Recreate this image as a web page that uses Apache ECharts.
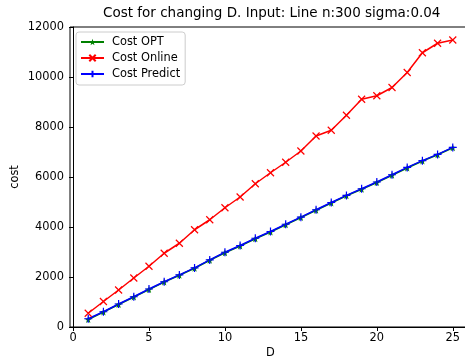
<!DOCTYPE html>
<html>
<head>
<meta charset="utf-8">
<script src="https://cdn.jsdelivr.net/npm/echarts@6/dist/echarts.min.js"></script>
<style>
  html, body { margin: 0; padding: 0; background: #fff; }
  #chart { width: 465px; height: 360px; }
</style>
</head>
<body>
<div id="chart"></div>
<script>
const dValues = [1, 2, 3, 4, 5, 6, 7, 8, 9, 10, 11, 12, 13, 14, 15, 16, 17, 18, 19, 20, 21, 22, 23, 24, 25];
const costOpt = [300, 600, 900, 1200, 1500, 1800, 2070, 2350, 2670, 2970, 3240, 3530, 3800, 4090, 4380, 4670, 4960, 5250, 5510, 5780, 6070, 6360, 6640, 6890, 7170];
const costOnline = [550, 1020, 1480, 1960, 2430, 2950, 3350, 3890, 4290, 4770, 5200, 5730, 6170, 6590, 7040, 7640, 7870, 8470, 9110, 9250, 9580, 10180, 10970, 11350, 11480];
const costPredict = [330, 610, 920, 1210, 1520, 1810, 2085, 2365, 2685, 2990, 3260, 3550, 3820, 4110, 4395, 4690, 4980, 5265, 5530, 5800, 6090, 6385, 6655, 6905, 7185];
const xTicks = [0, 5, 10, 15, 20, 25];

const font = "DejaVu Sans";
const starPath = "path://M0,-10L2.35,-3.24L9.51,-3.09L3.8,1.24L5.88,8.09L0,4L-5.88,8.09L-3.8,1.24L-9.51,-3.09L-2.35,-3.24Z";
const crossPath = "path://M0,0L10,10M10,0L0,10";
const plusPath = "path://M5,0L5,10M0,5L10,5";

const pairs = ys => dValues.map((d, i) => [d, ys[i]]);

const chart = echarts.init(document.getElementById("chart"));
chart.setOption({
  animation: false,
  title: {
    text: "Cost for changing D. Input: Line n:300 sigma:0.04",
    left: 98,
    top: 1,
    textStyle: { fontFamily: font, fontSize: 13.5, fontWeight: "normal", color: "#000" }
  },
  legend: {
    orient: "vertical",
    left: 76,
    top: 32,
    padding: [4, 5, 5, 4],
    itemGap: 4,
    itemWidth: 23,
    itemHeight: 8,
    borderColor: "#cccccc",
    borderWidth: 1,
    borderRadius: 3,
    backgroundColor: "rgba(255,255,255,0.8)",
    textStyle: { fontFamily: font, fontSize: 11.4, color: "#000", padding: [0, 0, 0, 3], lineHeight: 12 },
    data: ["Cost OPT", "Cost Online", "Cost Predict"]
  },
  grid: {
    left: 70,
    top: 27,
    right: -6,
    bottom: 33,
    outerBoundsMode: "none",
    show: true,
    borderColor: "#000",
    borderWidth: 1
  },
  xAxis: {
    type: "value",
    min: -0.2,
    max: 26.2,
    name: "D",
    nameLocation: "middle",
    nameGap: 21,
    nameMoveOverlap: false,
    nameTextStyle: { fontFamily: font, fontSize: 11.4, color: "#000" },
    splitLine: { show: false },
    axisLine: { show: true, lineStyle: { color: "#000", width: 1 } },
    axisTick: { show: true, length: 4, customValues: xTicks, lineStyle: { color: "#000" } },
    axisLabel: { customValues: xTicks, margin: 6, fontFamily: font, fontSize: 11.4, color: "#000" }
  },
  yAxis: {
    type: "value",
    min: 0,
    max: 12000,
    interval: 2000,
    name: "cost",
    nameLocation: "middle",
    nameGap: 49,
    nameMoveOverlap: false,
    nameTextStyle: { fontFamily: font, fontSize: 11.4, color: "#000" },
    splitLine: { show: false },
    axisLine: { show: true, lineStyle: { color: "#000", width: 1 } },
    axisTick: { show: true, length: 4, lineStyle: { color: "#000" } },
    axisLabel: { margin: 6, fontFamily: font, fontSize: 11.4, color: "#000", formatter: v => String(v) }
  },
  series: [
    {
      name: "Cost OPT",
      type: "line",
      data: pairs(costOpt),
      symbol: starPath,
      symbolSize: 7,
      lineStyle: { color: "#008000", width: 1.5 },
      itemStyle: { color: "#008000" }
    },
    {
      name: "Cost Online",
      type: "line",
      data: pairs(costOnline),
      symbol: crossPath,
      symbolSize: 7,
      lineStyle: { color: "#ff0000", width: 1.5 },
      itemStyle: { color: "#ff0000", borderColor: "#ff0000", borderWidth: 1.2 }
    },
    {
      name: "Cost Predict",
      type: "line",
      data: pairs(costPredict),
      symbol: plusPath,
      symbolSize: 8,
      lineStyle: { color: "#0000ff", width: 1.5 },
      itemStyle: { color: "#0000ff", borderColor: "#0000ff", borderWidth: 1.2 }
    }
  ]
});
</script>
</body>
</html>
